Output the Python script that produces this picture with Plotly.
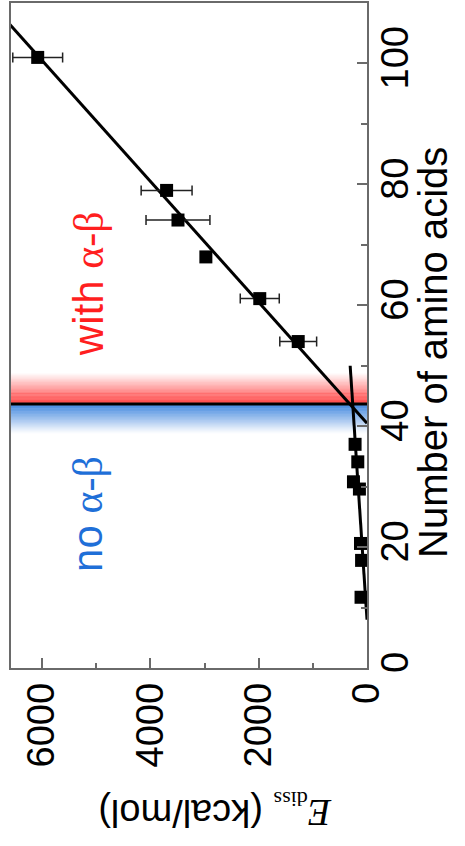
import plotly.graph_objects as go

# Dissociation energy vs. chain length
aa_high = [54.0, 61.1, 68.0, 74.1, 79.0, 101.0]
e_high = [1270, 1980, 2975, 3490, 3700, 6080]
e_high_err = [340, 360, 80, 590, 470, 460]

aa_low = [11.7, 17.8, 20.6, 29.6, 30.8, 34.1, 37.0]
e_low = [110, 100, 120, 140, 250, 170, 220]

# linear fits: E = slope * (n - n0)
fit_high = dict(slope=100.0, n0=40.5, n_start=40.5, n_end=112.0)
fit_low = dict(slope=7.4, n0=8.0, n_start=8.0, n_end=50.0)

# transition between the two regimes
n_transition = 43.65
red_width = 5.2
blue_width = 4.9

e_ticks = [0, 2000, 4000, 6000]
e_minor = [1000, 3000, 5000]
n_ticks = [0, 20, 40, 60, 80, 100]
n_minor = [10, 30, 50, 70, 90]

SANS = "Liberation Sans, Arial, sans-serif"
SERIF = "Liberation Serif, Times New Roman, serif"
AXIS_GREY = "#6a6a6a"


def fit_line(f):
    ns = [f["n_start"], f["n_end"]]
    return ns, [f["slope"] * (n - f["n0"]) for n in ns]


fig = go.Figure()

# gradient bands either side of the transition
shapes = []
steps = 40
for i in range(steps):
    a0 = i / steps
    a1 = (i + 1) / steps
    op = (1 - a0) ** 1.2
    shapes.append(dict(type="rect", xref="x", yref="y", layer="below",
                       x0=0, x1=7000,
                       y0=n_transition + a0 * red_width,
                       y1=n_transition + a1 * red_width,
                       fillcolor="rgb(255,25,25)", opacity=op, line_width=0))
    shapes.append(dict(type="rect", xref="x", yref="y", layer="below",
                       x0=0, x1=7000,
                       y0=n_transition - a1 * blue_width,
                       y1=n_transition - a0 * blue_width,
                       fillcolor="rgb(25,110,215)", opacity=op, line_width=0))
shapes.append(dict(type="line", xref="x", yref="y", layer="below",
                   x0=0, x1=7000, y0=n_transition, y1=n_transition,
                   line=dict(color="black", width=3)))

nx, ey = fit_line(fit_high)
fig.add_trace(go.Scatter(x=ey, y=nx, mode="lines",
                         line=dict(color="black", width=3), showlegend=False))
nx, ey = fit_line(fit_low)
fig.add_trace(go.Scatter(x=ey, y=nx, mode="lines",
                         line=dict(color="black", width=3), showlegend=False))

fig.add_trace(go.Scatter(
    x=e_high, y=aa_high, mode="markers",
    marker=dict(symbol="square", size=13, color="black"),
    error_x=dict(type="data", array=e_high_err, color="#222",
                 thickness=1.5, width=5),
    showlegend=False))
fig.add_trace(go.Scatter(
    x=e_low, y=aa_low, mode="markers",
    marker=dict(symbol="square", size=13, color="black"),
    showlegend=False))

annotations = [
    dict(x=5150, y=63.5, xref="x", yref="y", textangle=-90,
         xanchor="center", yanchor="middle",
         text=f"with <span style='font-family:{SERIF}'>α-β</span>",
         showarrow=False, font=dict(family=SANS, size=42, color="#ff1f1f")),
    dict(x=5150, y=25.5, xref="x", yref="y", textangle=-90,
         xanchor="center", yanchor="middle",
         text=f"no <span style='font-family:{SERIF}'>α-β</span>",
         showarrow=False, font=dict(family=SANS, size=42, color="#1f6fd8")),
    dict(x=1.185, y=0.475, xref="paper", yref="paper", textangle=-90,
         xanchor="center", yanchor="middle",
         text="Number of amino acids", showarrow=False,
         font=dict(family=SANS, size=40, color="black")),
    dict(x=0.573, y=-0.214, xref="paper", yref="paper", textangle=180,
         xanchor="center", yanchor="middle",
         text=(f"<span style='font-family:{SERIF}'><i>E</i>"
               f"<sub><span style='font-size:22px'>diss</span></sub></span>"
               f" (kcal/mol)"),
         showarrow=False, font=dict(family=SANS, size=38, color="black")),
]

axis_common = dict(
    showline=True, mirror=True, linecolor=AXIS_GREY, linewidth=1.5,
    ticks="inside", ticklen=10, tickwidth=1.5, tickcolor=AXIS_GREY,
    tickangle=-90, showgrid=False, zeroline=False,
    tickfont=dict(family=SANS, size=38, color="black"),
)

fig.update_layout(
    width=465, height=846,
    margin=dict(l=11, r=98, t=1, b=178),
    paper_bgcolor="white", plot_bgcolor="white",
    shapes=shapes, annotations=annotations,
    xaxis=dict(range=[6573, 0], autorange=False, tickvals=e_ticks,
               ticklabelstandoff=-2,
               minor=dict(ticks="inside", ticklen=5, tickwidth=1.5,
                          tickcolor=AXIS_GREY, tickvals=e_minor),
               **axis_common),
    yaxis=dict(range=[0, 110], autorange=False, side="right",
               tickvals=n_ticks, ticklabelstandoff=-6,
               minor=dict(ticks="inside", ticklen=6, tickwidth=1.5,
                          tickcolor=AXIS_GREY, tickvals=n_minor),
               **axis_common),
)

fig.write_html("out.html")
